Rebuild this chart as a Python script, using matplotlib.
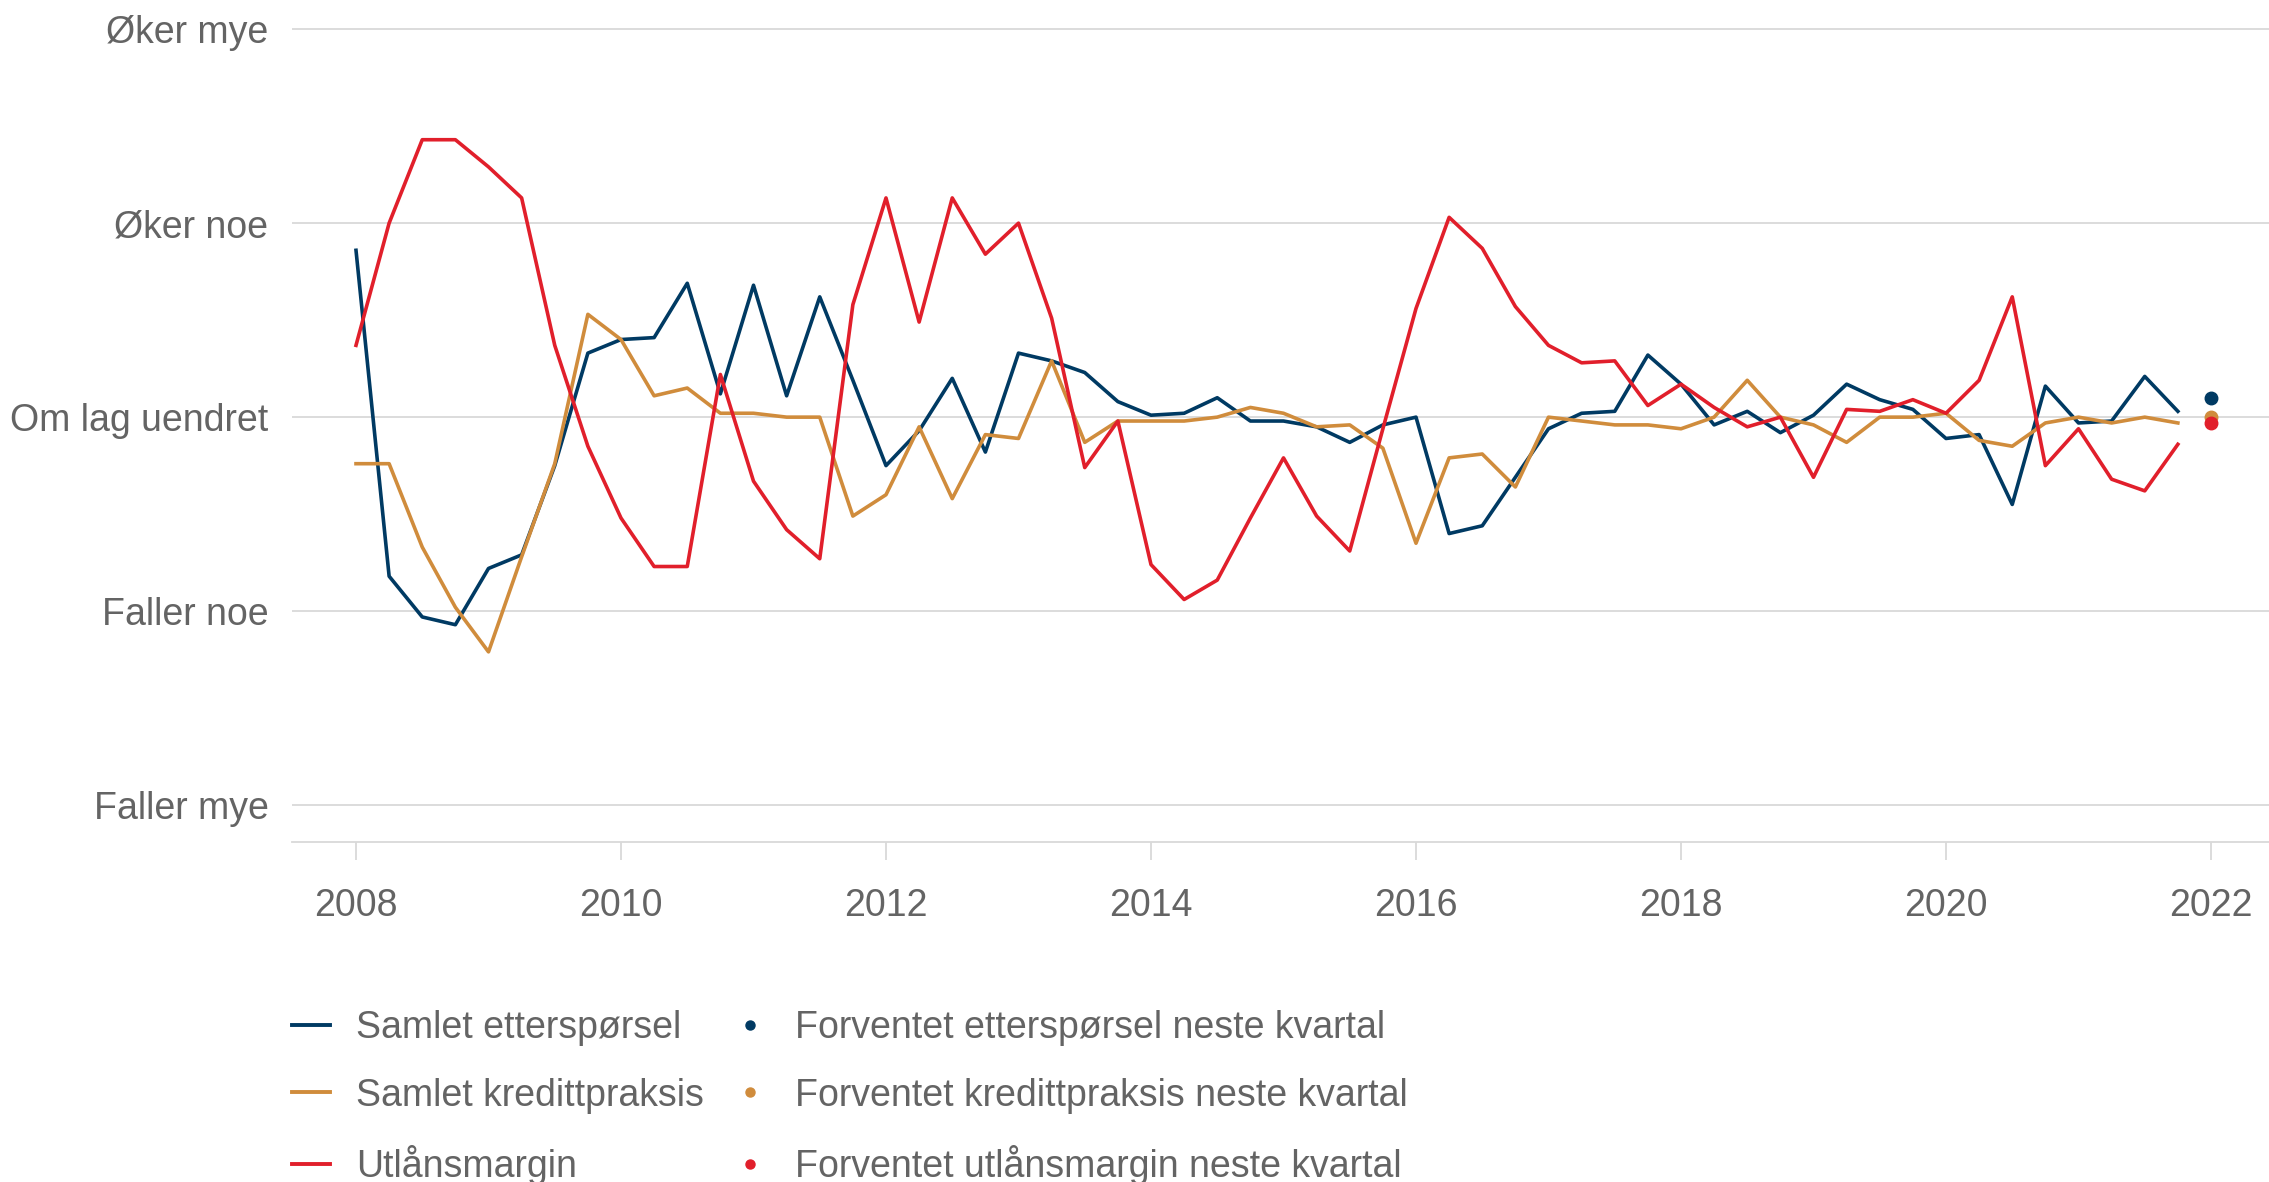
import matplotlib
matplotlib.use("Agg")
import matplotlib.pyplot as plt
from matplotlib.lines import Line2D
import numpy as np

plt.rcParams['font.family'] = ['Liberation Sans', 'DejaVu Sans']

# Quarterly data 2008Q1 - 2021Q4
start_year = 2008
etterspørsel = [
    0.86, -0.82, -1.03, -1.07,
    -0.78, -0.71, -0.25, 0.33,
    0.40, 0.41, 0.69, 0.12,
    0.68, 0.11, 0.62, 0.19,
    -0.25, -0.07, 0.20, -0.18,
    0.33, 0.29, 0.23, 0.08,
    0.01, 0.02, 0.10, -0.02,
    -0.02, -0.05, -0.13, -0.04,
    0.00, -0.60, -0.56, -0.31,
    -0.06, 0.02, 0.03, 0.32,
    0.17, -0.04, 0.03, -0.08,
    0.01, 0.17, 0.09, 0.04,
    -0.11, -0.09, -0.45, 0.16,
    -0.03, -0.02, 0.21, 0.03,
]
kredittpraksis = [
    -0.24, -0.24, -0.67, -0.98,
    -1.21, -0.72, -0.24, 0.53,
    0.40, 0.11, 0.15, 0.02,
    0.02, 0.00, 0.00, -0.51,
    -0.40, -0.05, -0.42, -0.09,
    -0.11, 0.29, -0.13, -0.02,
    -0.02, -0.02, 0.00, 0.05,
    0.02, -0.05, -0.04, -0.16,
    -0.65, -0.21, -0.19, -0.36,
    0.00, -0.02, -0.04, -0.04,
    -0.06, 0.00, 0.19, 0.00,
    -0.04, -0.13, 0.00, 0.00,
    0.02, -0.12, -0.15, -0.03,
    0.00, -0.03, 0.00, -0.03,
]
utlånsmargin = [
    0.37, 1.00, 1.43, 1.43,
    1.29, 1.13, 0.37, -0.15,
    -0.52, -0.77, -0.77, 0.22,
    -0.33, -0.58, -0.73, 0.58,
    1.13, 0.49, 1.13, 0.84,
    1.00, 0.51, -0.26, -0.02,
    -0.76, -0.94, -0.84, -0.52,
    -0.21, -0.51, -0.69, -0.06,
    0.56, 1.03, 0.87, 0.57,
    0.37, 0.28, 0.29, 0.06,
    0.17, 0.05, -0.05, 0.00,
    -0.31, 0.04, 0.03, 0.09,
    0.02, 0.19, 0.62, -0.25,
    -0.06, -0.32, -0.38, -0.14,
]
forventet_x = 2022.0
forventet_etterspørsel = 0.10
forventet_kredittpraksis = 0.00
forventet_utlånsmargin = -0.03

y_ticks = [-2, -1, 0, 1, 2]
y_labels = ["Faller mye", "Faller noe", "Om lag uendret", "Øker noe", "Øker mye"]
x_ticks = [2008, 2010, 2012, 2014, 2016, 2018, 2020, 2022]

line_labels = ["Samlet etterspørsel", "Samlet kredittpraksis", "Utlånsmargin"]
dot_labels = ["Forventet etterspørsel neste kvartal",
              "Forventet kredittpraksis neste kvartal",
              "Forventet utlånsmargin neste kvartal"]

BLUE = "#003A63"
ORANGE = "#D08C3C"
RED = "#E11F2B"
TXT = "#646464"
GRID = "#d9d9d9"

x = start_year + np.arange(len(etterspørsel)) / 4.0

W, H = 2269, 1182
fig = plt.figure(figsize=(W / 100, H / 100), dpi=100)
ax_left, ax_right, ax_bottom = 292 / W, 1.0, 1 - 842 / H
ylo, yhi = -2.19, 2.05
top_px = 842 - (yhi - ylo) * 194
ax = fig.add_axes([ax_left, ax_bottom, ax_right - ax_left, (842 - top_px) / H])

lw = 2.6
ax.plot(x, etterspørsel, color=BLUE, lw=lw, zorder=3)
ax.plot(x, kredittpraksis, color=ORANGE, lw=lw, zorder=3)
ax.plot(x, utlånsmargin, color=RED, lw=lw, zorder=3)
ax.plot([forventet_x], [forventet_etterspørsel], 'o', color=BLUE, ms=9, zorder=4)
ax.plot([forventet_x], [forventet_kredittpraksis], 'o', color=ORANGE, ms=9, zorder=4)
ax.plot([forventet_x], [forventet_utlånsmargin], 'o', color=RED, ms=9, zorder=4)

ax.set_xlim(2008 - 64 / 132.5, 2022 + 58 / 132.5)
ax.set_ylim(ylo, yhi)
ax.set_yticks(y_ticks)
ax.set_yticklabels(y_labels)
ax.set_xticks(x_ticks)
ax.set_xticklabels([str(v) for v in x_ticks])
ax.grid(axis='y', color=GRID, lw=1.3, zorder=0)
ax.grid(axis='x', visible=False)
for s in ['top', 'left', 'right']:
    ax.spines[s].set_visible(False)
ax.spines['bottom'].set_color(GRID)
ax.spines['bottom'].set_linewidth(1.3)
ax.tick_params(axis='y', length=0, pad=17, labelsize=27, labelcolor=TXT)
ax.tick_params(axis='x', length=13, width=1.3, color=GRID, pad=20, labelsize=27, labelcolor=TXT)
ax.set_facecolor('white')

handles = [Line2D([], [], color=c, lw=2.8) for c in (BLUE, ORANGE, RED)]
handles += [Line2D([], [], color=c, marker='o', ls='none', ms=6.5) for c in (BLUE, ORANGE, RED)]
labels = line_labels + dot_labels
fig.legend(handles, labels, ncol=2, loc='upper left',
           bbox_to_anchor=(ax_left, 1 - 1010 / H), frameon=False,
           borderpad=0, borderaxespad=0, handlelength=1.0, handletextpad=0.7,
           columnspacing=0.73, labelspacing=0.84, fontsize=27, labelcolor=TXT)

fig.savefig("out.png", dpi=100, facecolor='white')
